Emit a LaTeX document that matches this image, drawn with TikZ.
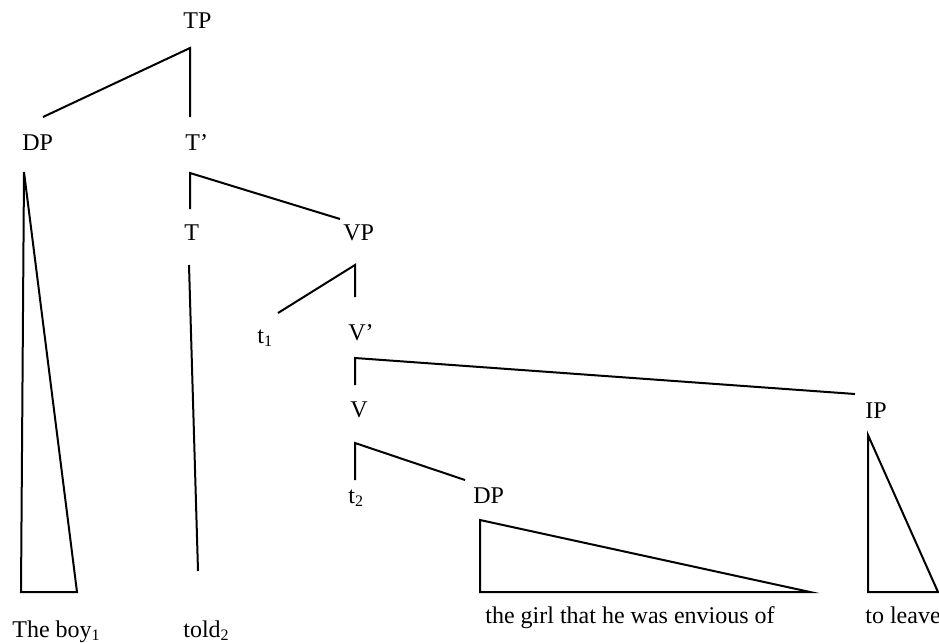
\documentclass[tikz,border=0pt]{standalone}
\usepackage{fontspec}
\setmainfont{Liberation Serif}
\usetikzlibrary{calc}

\begin{document}
\begin{tikzpicture}[x=0.5pt,y=-0.5pt,
  lbl/.style={inner sep=0pt,anchor=base west,font=\fontsize{12}{14}\selectfont},
  branch/.style={line width=1pt},
  roof/.style={line width=1pt,line join=miter}]
  \useasboundingbox (0,0) rectangle (939,643);
  % labels
  \node[lbl] (tp) at (183,28) {TP};
  \node[lbl] (dp) at (22,150) {DP};
  \node[lbl] (tbar) at (185,150) {T'};
  \node[lbl] (t) at (184,240) {T};
  \node[lbl] (vp) at (343,240) {VP};
  \node[lbl] (tr1) at (257,343) {t\textsubscript{1}};
  \node[lbl] (vbar) at (348,340) {V'};
  \node[lbl] (v) at (350,417) {V};
  \node[lbl] (ip) at (865,418) {IP};
  \node[lbl] (tr2) at (348,503) {t\textsubscript{2}};
  \node[lbl] (dpobj) at (473,503) {DP};
  \node[lbl] (boy) at (12,637) {The boy\textsubscript{1}};
  \node[lbl] (told) at (183,637) {told\textsubscript{2}};
  \node[lbl] (girl) at (485,623) {the girl that he was envious of};
  \node[lbl] (leave) at (865,623) {to leave};
  % branch points
  \coordinate (tp-top) at (190,48);   \coordinate (tp-l) at (43,117);    \coordinate (tp-r) at (190,117);
  \coordinate (tbar-top) at (190,173); \coordinate (tbar-l) at (190,209); \coordinate (tbar-r) at (340,219);
  \coordinate (t-top) at (189,265);    \coordinate (t-bot) at (198,571);
  \coordinate (vp-top) at (355,265);   \coordinate (vp-l) at (278,313);   \coordinate (vp-r) at (355,297);
  \coordinate (vbar-top) at (355,358); \coordinate (vbar-l) at (355,385); \coordinate (vbar-r) at (855,394);
  \coordinate (v-top) at (355,443);    \coordinate (v-l) at (355,480);    \coordinate (v-r) at (465,480);
  % branches
  \draw[branch] (tp-l) -- (tp-top) -- (tp-r);
  \draw[branch] (tbar-l) -- (tbar-top) -- (tbar-r);
  \draw[branch] (t-top) -- (t-bot);
  \draw[branch] (vp-l) -- (vp-top) -- (vp-r);
  \draw[branch] (vbar-l) -- (vbar-top) -- (vbar-r);
  \draw[branch] (v-l) -- (v-top) -- (v-r);
  % roofs
  \draw[roof] (24,172) -- (21,592) -- (77,592) -- cycle;
  \draw[roof] (480,520) -- (480,592) -- (810,592) -- cycle;
  \draw[roof] (868,435) -- (868,592) -- (938,592) -- cycle;
\end{tikzpicture}
\end{document}
